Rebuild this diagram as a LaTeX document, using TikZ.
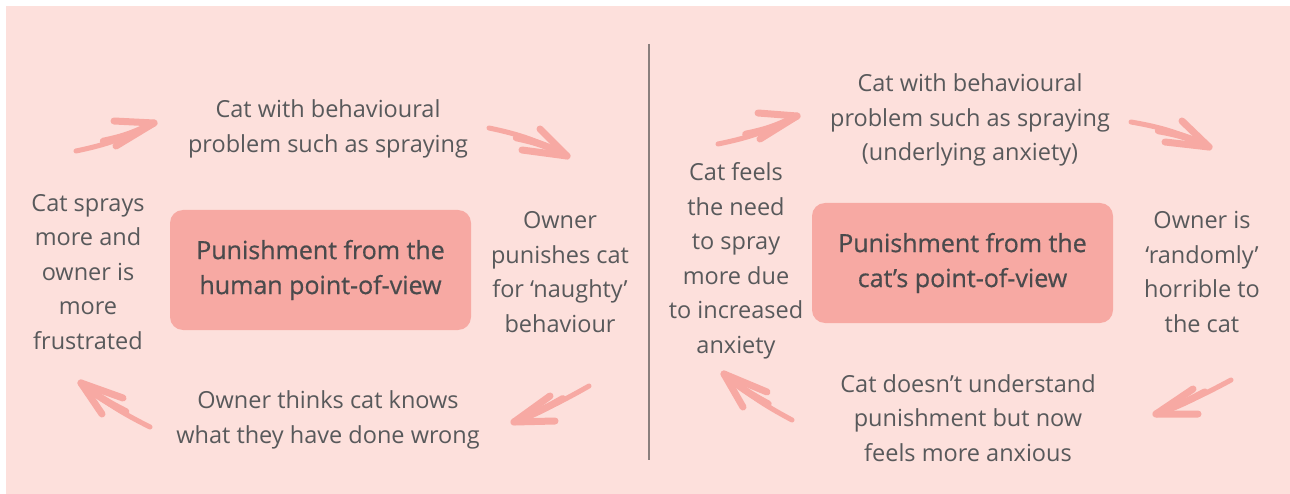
\documentclass[tikz,border=0pt]{standalone}
\usepackage{fontspec}
\setmainfont{Open Sans}
\newfontfamily\boxfont[FakeBold=0.6]{Open Sans}
\definecolor{bg}{HTML}{FDE0DC}
\definecolor{arr}{HTML}{F7A9A3}
\definecolor{boxc}{HTML}{F7A9A3}
\definecolor{txt}{HTML}{58595B}
\definecolor{boxtxt}{HTML}{4A4A4C}
\definecolor{divc}{HTML}{8A7F7D}
\newcommand\brusharrow[5]{%
  \draw[brush, line width=5pt] (#1) to[#5] (#2);
  \path (#1) -- coordinate[pos=0.35] (#1m) (#2);
  \draw[brush] (#1m) to[#5] (#2);
  \draw[brush, line join=round] (#3) -- (#2) -- (#4);
}
\begin{document}
\begin{tikzpicture}[x=1pt,y=-1pt,
  lbl/.style={align=center, text=txt, font=\fontsize{23.5}{34.5}\selectfont, inner sep=0pt},
  core/.style={fill=boxc, rounded corners=13pt, minimum width=301pt, minimum height=120pt,
    align=center, text=boxtxt, inner sep=0pt, font=\boxfont\fontsize{25}{35}\selectfont},
  brush/.style={draw=arr, line width=7pt, line cap=round}]
\useasboundingbox (0,0) rectangle (1290,494);
\fill[white] (0,0) rectangle (1290,494);
\fill[bg] (6,6) rectangle (1290,494);
% divider
\coordinate (d1) at (649,44);
\coordinate (d2) at (649,460);
\draw[divc, line width=2pt] (d1) -- (d2);

% ---------- left cycle ----------
\node[core] (lbox) at (320.5,270) {Punishment from the\\human point-of-view};
\node[lbl] (ltop) at (328,129) {Cat with behavioural\\problem such as spraying};
\node[lbl] (lright) at (560,272) {Owner\\punishes cat\\for ‘naughty’\\behaviour};
\node[lbl] (lbot) at (328,420) {Owner thinks cat knows\\what they have done wrong};
\node[lbl] (lleft) at (88,272) {Cat sprays\\more and\\owner is\\more\\frustrated};

\coordinate (a1t) at (76,151); \coordinate (a1h) at (154,123);
\coordinate (a1u) at (114,121); \coordinate (a1l) at (116,146);
\brusharrow{a1t}{a1h}{a1u}{a1l}{bend right=8}

\coordinate (a2t) at (489,128); \coordinate (a2h) at (567,156);
\coordinate (a2u) at (540,129); \coordinate (a2l) at (522,150);
\brusharrow{a2t}{a2h}{a2u}{a2l}{bend left=8}

\coordinate (a3t) at (589,386); \coordinate (a3h) at (514,422);
\coordinate (a3u) at (550,396); \coordinate (a3l) at (555,421);
\brusharrow{a3t}{a3h}{a3u}{a3l}{bend left=4}

\coordinate (a4t) at (150,427); \coordinate (a4h) at (81,383);
\coordinate (a4u) at (123,398); \coordinate (a4l) at (102,414);
\brusharrow{a4t}{a4h}{a4u}{a4l}{bend left=6}

% ---------- right cycle ----------
\node[core] (rbox) at (962.5,263) {Punishment from the\\cat’s point-of-view};
\node[lbl] (rtop) at (970,120) {Cat with behavioural\\problem such as spraying\\(underlying anxiety)};
\node[lbl] (rright) at (1202,272) {Owner is\\‘randomly’\\horrible to\\the cat};
\node[lbl] (rbot) at (968,418) {Cat doesn’t understand\\punishment but now\\feels more anxious};
\node[lbl] (rleft) at (736,261) {Cat feels\\the need\\to spray\\more due\\to increased\\anxiety};

\coordinate (b1t) at (718,144); \coordinate (b1h) at (797,116);
\coordinate (b1u) at (758,113); \coordinate (b1l) at (760,139);
\brusharrow{b1t}{b1h}{b1u}{b1l}{bend right=8}

\coordinate (b2t) at (1131,122); \coordinate (b2h) at (1209,147);
\coordinate (b2u) at (1182,121); \coordinate (b2l) at (1165,142);
\brusharrow{b2t}{b2h}{b2u}{b2l}{bend left=8}

\coordinate (b3t) at (1231,380); \coordinate (b3h) at (1156,414);
\coordinate (b3u) at (1193,389); \coordinate (b3l) at (1198,414);
\brusharrow{b3t}{b3h}{b3u}{b3l}{bend left=4}

\coordinate (b4t) at (792,420); \coordinate (b4h) at (724,374);
\coordinate (b4u) at (767,392); \coordinate (b4l) at (743,407);
\brusharrow{b4t}{b4h}{b4u}{b4l}{bend left=6}
\end{tikzpicture}
\end{document}
